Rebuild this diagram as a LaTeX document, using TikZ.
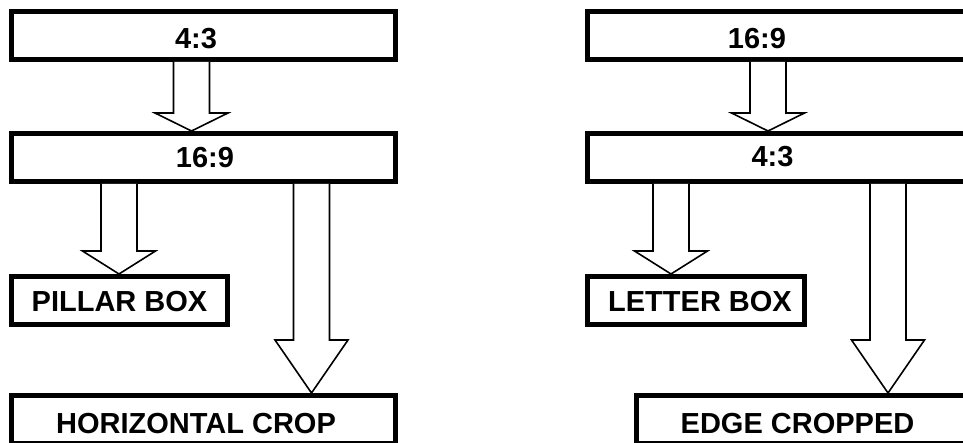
\documentclass[tikz,border=0pt]{standalone}
\usepackage{fontspec}
\setmainfont{Liberation Sans}
\usetikzlibrary{positioning}

\tikzstyle{box} = [draw, line width=5pt, rectangle, inner sep=0pt,
    minimum height=48pt, minimum width=384pt, anchor=north west]
\tikzstyle{tag} = [anchor=base, inner sep=0pt,
    font=\bfseries\fontsize{29}{34}\selectfont]
\tikzstyle{hollow} = [draw, line width=1.6pt, fill=white, line join=miter]

% hollow block arrow: #1 x of shaft, #2 source box, #3 target box, #4 head length
\newcommand{\fatarrow}[4]{%
  \path (#1,0) coordinate (ax) (ax |- #2.south) coordinate (as)
        (ax |- #3.north) coordinate (at);
  \draw[hollow] ([xshift=-18pt]as) -- ([xshift=-18pt,yshift=#4]at)
    -- ([xshift=-36.5pt,yshift=#4]at) -- (at)
    -- ([xshift=36.5pt,yshift=#4]at) -- ([xshift=18pt,yshift=#4]at)
    -- ([xshift=18pt]as);
}

\begin{document}
\begin{tikzpicture}[x=1pt, y=-1pt]
    \useasboundingbox (0,0) rectangle (963,443);
    \clip (0,0) rectangle (963,443);

    % 4:3 source
    \node [box] (src43) at (9,9) {};
    \node [box] (dst169) at (9,131) {};
    \node [box, minimum width=216pt] (pillar) at (9,274) {};
    \node [box] (hcrop) at (9,393) {};

    % 16:9 source
    \node [box] (src169) at (585,9) {};
    \node [box] (dst43) at (585,131) {};
    \node [box, minimum width=217pt] (letter) at (585,274) {};
    \node [box] (edge) at (634,393) {};

    \node [tag] (t1) at (196,49) {4:3};
    \node [tag] (t2) at (205,168) {16:9};
    \node [tag] (t3) at (119.5,312) {PILLAR BOX};
    \node [tag] (t4) at (196,433) {HORIZONTAL CROP};
    \node [tag] (t5) at (757,49) {16:9};
    \node [tag] (t6) at (772.5,167) {4:3};
    \node [tag] (t7) at (700,312) {LETTER BOX};
    \node [tag] (t8) at (797.5,433) {EDGE CROPPED};

    \fatarrow{191.5}{src43}{dst169}{18pt}
    \fatarrow{119}{dst169}{pillar}{23pt}
    \fatarrow{311.5}{dst169}{hcrop}{53pt}
    \fatarrow{768}{src169}{dst43}{18pt}
    \fatarrow{671}{dst43}{letter}{23pt}
    \fatarrow{888}{dst43}{edge}{53pt}
\end{tikzpicture}
\end{document}
